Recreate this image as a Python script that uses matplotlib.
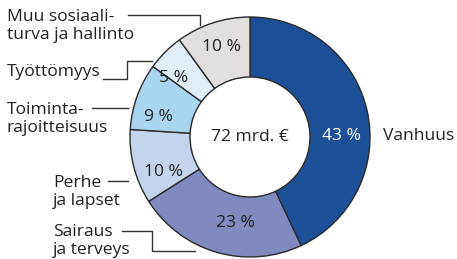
import matplotlib
matplotlib.use("Agg")
import matplotlib.pyplot as plt

plt.rcParams['font.family'] = ['Open Sans', 'DejaVu Sans']

# data
categories = ["Vanhuus", "Sairaus\nja terveys", "Perhe\nja lapset",
              "Toiminta-\nrajoitteisuus", "Työttömyys",
              "Muu sosiaali-\nturva ja hallinto"]
shares = [43, 23, 10, 9, 5, 10]
total_label = "72 mrd. €"
colors = ["#1b4f98", "#8189c1", "#c3d5ed", "#a9d5ef", "#e1eefa", "#e1dfdd"]
pct_colors = ["white", "#222222", "#222222", "#222222", "#222222", "#222222"]

W, H = 457, 259
fig = plt.figure(figsize=(W / 100, H / 100), dpi=100)

cx, cy, R = 250, 137, 120

# pie drawn in a y-up axes so wedges go clockwise from 12 o'clock
ax2 = fig.add_axes([0, 0, 1, 1])
ax2.pie(shares, colors=colors, startangle=90, counterclock=False,
        center=(cx, H - cy), radius=R, frame=True,
        wedgeprops=dict(width=R * 0.5, edgecolor="#2a2a2a", linewidth=1.0))
ax2.set_xlim(0, W)
ax2.set_ylim(0, H)
ax2.axis("off")

# overlay for text, pixel coordinates with y down
ax = fig.add_axes([0, 0, 1, 1])
ax.set_xlim(0, W)
ax.set_ylim(H, 0)
ax.axis("off")

fs = 12.6
txt = "#222222"

# percentage labels (positions in pixels)
pct_pos = [(342, 136), (236, 223), (164, 172), (159, 117), (174, 78), (222, 47)]
for s, (x, y), c in zip(shares, pct_pos, pct_colors):
    ax.text(x, y, f"{s} %", color=c, fontsize=fs, ha="center", va="center")

ax.text(cx, cy, total_label, color=txt, fontsize=fs, ha="center", va="center")

# category labels
lab_pos = [(383, 136), (53, 241), (53, 192), (7, 119), (7, 72), (7, 26)]
for lab, (x, y) in zip(categories, lab_pos):
    ax.text(x, y, lab, color=txt, fontsize=fs, ha="left", va="center",
            linespacing=1.2)

# leader lines
lc = dict(color="#333333", lw=1.0)
ax.plot([128, 200, 200], [15, 15, 25], **lc)
ax.plot([103, 127, 127, 152], [79, 79, 61, 61], **lc)
ax.plot([92, 128], [108, 108], **lc)
ax.plot([108, 128], [181, 181], **lc)
ax.plot([122, 152, 152, 195], [231, 231, 251, 251], **lc)

fig.savefig("out.png", dpi=100)
